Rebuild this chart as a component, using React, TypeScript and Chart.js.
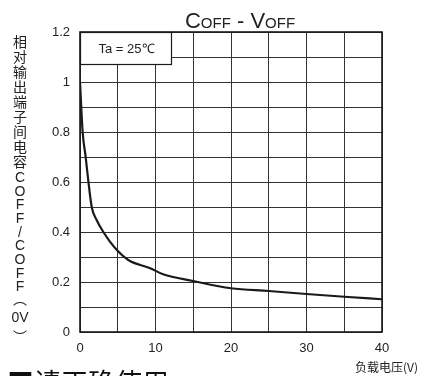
import React, { useEffect, useRef } from "react";
import { Chart, registerables } from "chart.js";

Chart.register(...registerables);

// Data
const voltage = [0, 0.35, 0.75, 1.1, 1.55, 2.2, 3.2, 4.5, 6.4, 9.3, 11, 15, 20, 25, 30, 35, 40];
const ratio = [1.0, 0.8, 0.7, 0.605, 0.5, 0.448, 0.395, 0.341, 0.288, 0.255, 0.231, 0.204, 0.175, 0.164, 0.152, 0.141, 0.131];

const xTickLabels = ["0", "10", "20", "30", "40"];
const yTickLabels = ["0", "0.2", "0.4", "0.6", "0.8", "1", "1.2"];

const titleParts: [string, boolean][] = [["C", false], ["OFF", true], [" - ", false], ["V", false], ["OFF", true]];
const yAxisUnits = ["相", "对", "输", "出", "端", "子", "间", "电", "容", "C", "O", "F", "F", "/", "C", "O", "F", "F", "︵", "0V", "︶"];
const xAxisTitle = "负载电压(V)";
const legendText = "Ta = 25℃";
const footerText = "■请正确使用";

const LATIN = '"Liberation Sans", Arial, Helvetica, sans-serif';
const CJK = '"Noto Sans CJK SC", "Noto Sans", sans-serif';

const overlay = {
  id: "overlay",
  afterDraw(chart: any) {
    const ctx: CanvasRenderingContext2D = chart.ctx;
    const { left, top, right, bottom } = chart.chartArea;
    ctx.save();

    // frame
    ctx.strokeStyle = "#1a1a1a";
    ctx.lineWidth = 1.6;
    ctx.strokeRect(left, top, right - left, bottom - top);

    // legend box
    const bx = left, by = top, bw = 91, bh = 32;
    ctx.fillStyle = "#fff";
    ctx.fillRect(bx, by, bw, bh);
    ctx.strokeStyle = "#1a1a1a";
    ctx.lineWidth = 1.2;
    ctx.strokeRect(bx + 0.5, by + 0.5, bw, bh);
    ctx.fillStyle = "#222";
    ctx.font = `13px ${LATIN}`;
    ctx.textAlign = "center";
    ctx.textBaseline = "middle";
    ctx.fillText(legendText, bx + bw / 2 + 1, by + bh / 2 + 1);

    // title
    const big = `22px ${LATIN}`;
    const small = `15px ${LATIN}`;
    let total = 0;
    const widths = titleParts.map(([t, s]) => {
      ctx.font = s ? small : big;
      const w = ctx.measureText(t).width;
      total += w;
      return w;
    });
    let x = 240 - total / 2;
    ctx.textAlign = "left";
    ctx.textBaseline = "alphabetic";
    ctx.fillStyle = "#222";
    titleParts.forEach(([t, s], i) => {
      ctx.font = s ? small : big;
      ctx.fillText(t, x, 28);
      x += widths[i];
    });

    // vertical y-axis title
    ctx.textAlign = "center";
    ctx.textBaseline = "middle";
    yAxisUnits.forEach((u, i) => {
      let y: number;
      if (i < 9) y = 42 + i * 15;
      else if (i < 18) y = 178 + (i - 9) * 13.7;
      else y = [299, 318, 337][i - 18];
      const isCjk = /[\u3000-\uffff]/.test(u);
      ctx.font = isCjk ? `14px ${CJK}` : `14px ${LATIN}`;
      ctx.fillText(u, 20, y);
    });

    // x-axis title
    ctx.font = `12px ${CJK}`;
    ctx.textAlign = "right";
    ctx.textBaseline = "middle";
    ctx.fillText(xAxisTitle, 418, 367);

    // footer fragment
    ctx.font = `27px ${CJK}`;
    ctx.textAlign = "left";
    ctx.textBaseline = "top";
    ctx.fillStyle = "#111";
    ctx.fillText(footerText, 7, 369);

    ctx.restore();
  },
};

export default function App() {
  const ref = useRef<HTMLCanvasElement>(null);
  useEffect(() => {
    if (!ref.current) return;
    const chart = new Chart(ref.current, {
      type: "line",
      data: {
        datasets: [
          {
            data: voltage.map((v, i) => ({ x: v, y: ratio[i] })),
            borderColor: "#1a1a1a",
            borderWidth: 2.2,
            pointRadius: 0,
            cubicInterpolationMode: "monotone",
            fill: false,
          },
        ],
      },
      options: {
        responsive: false,
        animation: false,
        devicePixelRatio: 1,
        layout: { padding: { top: 32, right: 49, left: 0, bottom: 0 } },
        plugins: { legend: { display: false }, tooltip: { enabled: false }, title: { display: false } },
        scales: {
          x: {
            type: "linear",
            min: 0,
            max: 40,
            afterFit: (s: any) => { s.height = 44; },
            grid: { color: "#333", lineWidth: 1, drawTicks: false },
            border: { display: false },
            ticks: {
              stepSize: 5,
              autoSkip: false,
              maxRotation: 0,
              padding: 9,
              color: "#222",
              font: { family: LATIN, size: 13 },
              callback: (v: any) => {
                const n = Number(v);
                return n % 10 === 0 ? xTickLabels[n / 10] : "";
              },
            },
          },
          y: {
            type: "linear",
            min: 0,
            max: 1.2,
            afterFit: (s: any) => { s.width = 80; },
            grid: { color: "#333", lineWidth: 1, drawTicks: false },
            border: { display: false },
            ticks: {
              stepSize: 0.1,
              autoSkip: false,
              padding: 10,
              color: "#222",
              font: { family: LATIN, size: 13 },
              callback: (v: any) => {
                const n = Math.round(Number(v) * 10);
                return n % 2 === 0 ? yTickLabels[n / 2] : "";
              },
            },
          },
        },
      },
      plugins: [overlay],
    });
    return () => chart.destroy();
  }, []);

  return (
    <div style={{ position: "absolute", left: 0, top: 0, width: 431, height: 376, overflow: "hidden", background: "#fff" }}>
      <canvas ref={ref} width={431} height={376} style={{ width: 431, height: 376, display: "block" }} />
    </div>
  );
}
